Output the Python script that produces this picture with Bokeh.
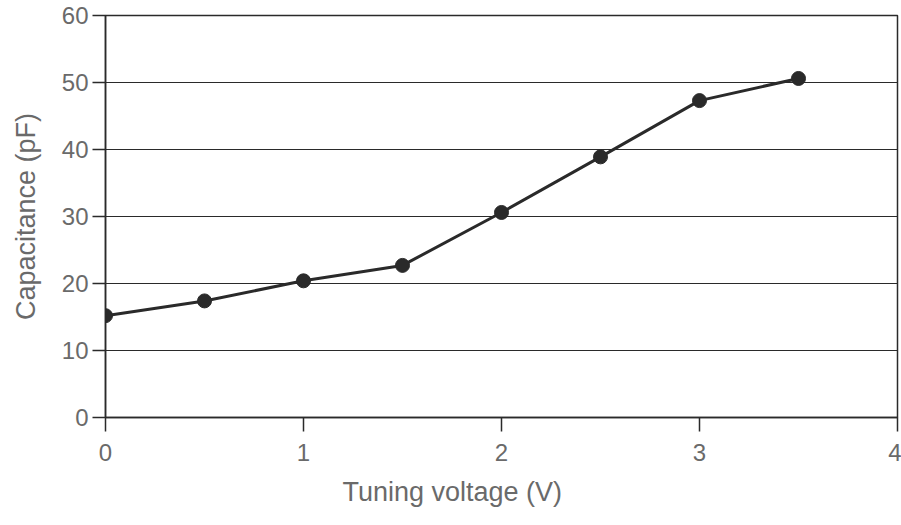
from bokeh.plotting import figure
from bokeh.models import FixedTicker, Range1d, Title
from bokeh.embed import file_html
from bokeh.resources import INLINE

# Varactor tuning curve: capacitance versus tuning voltage
voltage = [0.0, 0.5, 1.0, 1.5, 2.0, 2.5, 3.0, 3.5]
capacitance = [15.2, 17.4, 20.4, 22.7, 30.6, 38.9, 47.3, 50.6]

x_ticks = [0, 1, 2, 3, 4]
y_ticks = [0, 10, 20, 30, 40, 50, 60]

x_title = "Tuning voltage (V)"
y_title = "Capacitance (pF)"

FONT = "Liberation Sans"
TEXT = "#6a6a6a"
INK = "#2a2a2a"

p = figure(
    width=901, height=525,
    output_backend="svg", toolbar_location=None,
    x_range=Range1d(0, 4), y_range=Range1d(0, 60),
    min_border_left=105, min_border_right=4,
    min_border_top=15, min_border_bottom=108,
    y_axis_label=y_title,
)

p.background_fill_color = "white"
p.border_fill_color = "white"
p.outline_line_color = INK
p.outline_line_width = 1.5

# horizontal grid only
p.xgrid.grid_line_color = None
p.ygrid.grid_line_color = INK
p.ygrid.grid_line_width = 1.2

for ax in (p.xaxis[0], p.yaxis[0]):
    ax.axis_line_color = INK
    ax.axis_line_width = 1.5
    ax.major_tick_line_color = INK
    ax.major_tick_line_width = 1.5
    ax.major_tick_in = 0
    ax.minor_tick_line_color = None
    ax.major_label_text_font = FONT
    ax.major_label_text_color = TEXT
    ax.major_label_text_font_size = "24px"
    ax.axis_label_text_font = FONT
    ax.axis_label_text_color = TEXT
    ax.axis_label_text_font_size = "27px"
    ax.axis_label_text_font_style = "normal"

p.xaxis.ticker = FixedTicker(ticks=x_ticks)
p.yaxis.ticker = FixedTicker(ticks=y_ticks)
p.xaxis.major_tick_out = 14
p.yaxis.major_tick_out = 13
p.xaxis.major_label_standoff = 12
p.yaxis.major_label_standoff = 4
p.yaxis.axis_label_standoff = 18

# x-axis title, set left of the frame centre and pushed to the bottom of its panel
p.add_layout(Title(text=x_title, align="left", offset=237, standoff=22,
                   vertical_align="bottom",
                   text_font=FONT, text_font_size="27px", text_color=TEXT,
                   text_font_style="normal"), "below")

p.line(voltage, capacitance, line_color=INK, line_width=3)
p.scatter(voltage, capacitance, marker="circle", size=14,
          fill_color=INK, line_color=INK)

open("out.html", "w").write(file_html(p, INLINE))
